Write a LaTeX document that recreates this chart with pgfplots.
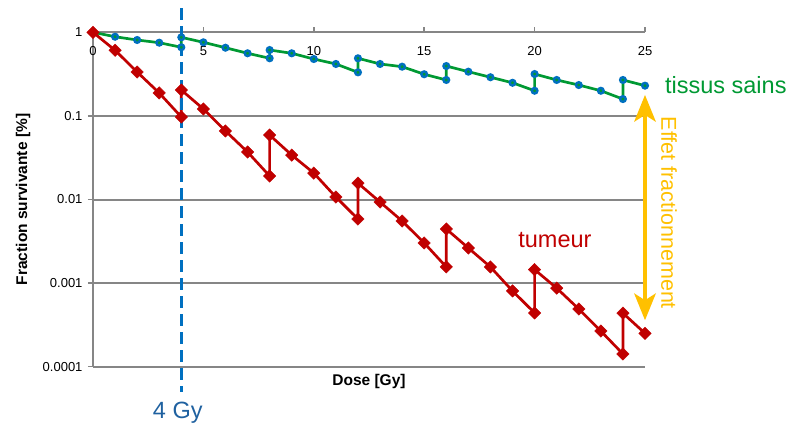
\documentclass[border=0pt]{standalone}
\usepackage{pgfplots}
\pgfplotsset{compat=1.18}
\usepackage{fontspec}
\setmainfont{Liberation Sans}
\usetikzlibrary{arrows.meta}
\definecolor{gridgray}{RGB}{134,134,134}
\definecolor{tred}{RGB}{192,0,0}
\definecolor{tgreen}{RGB}{0,153,51}
\definecolor{tblue}{RGB}{0,112,192}
\definecolor{torange}{RGB}{255,192,0}
\definecolor{gyblue}{RGB}{31,97,160}
\begin{document}
\begin{tikzpicture}
\path[use as bounding box] (-93pt,-58.3pt) rectangle (699pt,366.7pt);
\begin{axis}[
  scale only axis, width=552pt, height=334.4pt,
  xmin=0, xmax=25, ymode=log, ymin=1e-4, ymax=1,
  clip=false,
  axis x line*=top, axis y line*=left,
  axis line style={gridgray, line width=2pt, -},
  xtick={0,5,10,15,20,25},
  ytick={1e-4,1e-3,1e-2,1e-1,1},
  yticklabels={0.0001,0.001,0.01,0.1,1},
  yminorticks=false,
  tick style={gridgray, line width=1.5pt},
  tick align=outside, major tick length=5pt,
  ymajorgrids, grid style={gridgray, line width=2pt},
  tick label style={font=\fontsize{13}{15}\selectfont, /pgf/number format/assume math mode=true},
  xticklabel style={anchor=north, yshift=-16pt},
  yticklabel style={xshift=-2pt},
  xlabel={Dose [Gy]},
  xlabel style={at={(axis description cs:0.5,0)}, anchor=base, yshift=-18.3pt, font=\fontsize{15.5}{18}\selectfont\bfseries},
  ylabel={Fraction survivante [\%]},
  ylabel style={at={(axis description cs:-0.1268,0.5)}, anchor=center, rotate=0, font=\fontsize{15.5}{18}\selectfont\bfseries},
]
\addplot[tgreen, line width=2.7pt, mark=*, mark size=2.8pt,
  mark options={draw=tblue, fill=tgreen, line width=2.4pt}] coordinates {
(0,1) (1,0.885) (2,0.809) (3,0.751) (4,0.662) (4,0.871) (5,0.759) (6,0.654) (7,0.561)
(8,0.489) (8,0.614) (9,0.561) (10,0.479) (11,0.418) (12,0.332) (12,0.489) (13,0.418)
(14,0.388) (15,0.315) (16,0.269) (16,0.395) (17,0.338) (18,0.290) (19,0.249) (20,0.2)
(20,0.317) (21,0.269) (22,0.234) (23,0.2) (24,0.159) (24,0.269) (25,0.230)
};
\addplot[tred, line width=2.7pt, mark=square*, mark size=4.4pt,
  mark options={fill=tred, draw=tred, line width=0.4pt, rotate=45}] coordinates {
(0,1) (1,0.609) (2,0.335) (3,0.188) (4,0.097) (4,0.204) (5,0.121) (6,0.066) (7,0.037)
(8,0.0191) (8,0.059) (9,0.034) (10,0.0207) (11,0.0107) (12,0.00584) (12,0.0157)
(13,0.00933) (14,0.00553) (15,0.00302) (16,0.00156) (16,0.00444) (17,0.00263)
(18,0.00156) (19,0.000805) (20,0.00044) (20,0.00145) (21,0.000871) (22,0.00049)
(23,0.000267) (24,0.000142) (24,0.000437) (25,0.000251)
};
\addplot[tblue, line width=3pt, dash pattern=on 12pt off 6pt] coordinates {(4,1.95) (4,5e-5)};
\draw[torange, line width=4pt,
  {Stealth[length=27pt,width=22pt,inset=7pt,line width=0pt]}-{Stealth[length=27pt,width=22pt,inset=7pt,line width=0pt]}]
  (axis cs:25,0.178) -- (axis cs:25,3.6e-4);
\node[tgreen, font=\fontsize{23.5}{28}\selectfont, anchor=base west, inner sep=0pt] at (axis cs:25.9,0.1875) {tissus sains};
\node[tred, font=\fontsize{23.5}{28}\selectfont, anchor=base, inner sep=0pt] at (axis cs:20.92,0.00265) {tumeur};
\node[torange, font=\fontsize{21.5}{26}\selectfont, rotate=-90, anchor=center, inner sep=0pt] at (axis cs:26.09,0.0069) {Effet fractionnement};
\node[gyblue, font=\fontsize{23.5}{28}\selectfont, anchor=base, inner sep=0pt] at (axis cs:3.84,2.41e-5) {4 Gy};
\end{axis}
\end{tikzpicture}
\end{document}
